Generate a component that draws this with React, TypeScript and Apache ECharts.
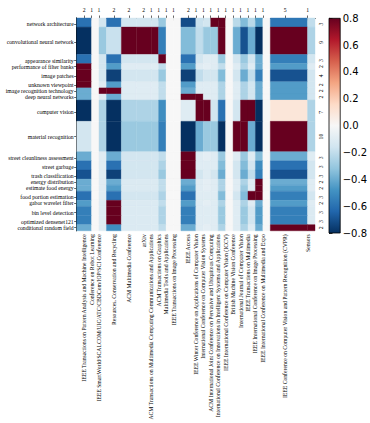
import React, { useEffect, useRef } from 'react';
import * as echarts from 'echarts';

const columns = [
  'IEEE Transactions on Pattern Analysis and Machine Intelligence',
  'Conference on Robot Learning',
  'IEEE SmartWorld/SCALCOM/UIC/ATC/CBDCom/IOP/SCI Conference',
  'Resources, Conservation and Recycling',
  'ACM Multimedia Conference',
  'arXiv',
  'ACM Transactions on Multimedia Computing Communications and Applications',
  'ACM Transactions on Graphics',
  'Multimedia Tools and Applications',
  'IEEE Transactions on Image Processing',
  'IEEE Access',
  'IEEE Winter Conference on Applications of Computer Vision',
  'International Conference on Computer Vision Systems',
  'ACM International Joint Conference on Pervasive and Ubiquitous Computing',
  'International Conference on Innovations in Intelligent Systems and Applications',
  'IEEE International Conference on Computer Vision (ICCV)',
  'British Machine Vision Conference',
  'International Journal of Computer Vision',
  'IEEE Transactions on Multimedia',
  'IEEE International Conference on Image Processing',
  'IEEE International Conference on Multimedia and Expo',
  'IEEE Conference on Computer Vision and Pattern Recognition (CVPR)',
  'Sensors',
];
const columnCounts = [2, 1, 1, 2, 2, 2, 1, 1, 1, 1, 2, 1, 1, 1, 1, 1, 1, 1, 1, 1, 1, 5, 1];

const rows = [
  'network architecture',
  'convolutional neural network',
  'appearance similarity',
  'performance of filter banks',
  'image patches',
  'unknown viewpoint',
  'image recognition technology',
  'deep neural networks',
  'computer vision',
  'material recognition',
  'street cleanliness assessment',
  'street garbage',
  'trash classification',
  'energy distribution',
  'estimate food energy',
  'food portion estimation',
  'gabor wavelet filter',
  'bin level detection',
  'optimized densenet121',
  'conditional random field',
];
const rowCounts = [3, 9, 3, 2, 4, 2, 2, 2, 7, 10, 3, 3, 3, 2, 2, 3, 2, 3, 3, 2];

const r01 = [-0.6, 0, -0.15, -0.6, -0.15, -0.15, -0.15, -0.3, 0, 0, -0.72, -0.18, -0.15, 0.8, 0.8, 0, -0.22, -0.35, -0.22, -0.45, 0, -0.58, -0.2];
const r02 = [-0.8, 0, -0.3, -0.18, 0.8, 0.8, 0.8, -0.55, 0, 0, -0.35, -0.2, -0.3, -0.3, 0.8, 0, -0.4, -0.7, -0.4, -0.8, 0, 0.8, -0.25];
const r03 = [-0.6, 0, -0.15, -0.6, -0.15, -0.15, -0.15, 0.8, 0, 0, -0.6, -0.15, -0.1, -0.1, -0.3, 0, -0.15, -0.3, -0.15, -0.4, 0, -0.55, -0.15];
const r04 = [0.8, 0, -0.15, -0.45, -0.1, -0.1, -0.1, -0.2, 0, 0, -0.45, -0.1, -0.08, -0.1, -0.2, 0, -0.1, -0.25, -0.1, -0.4, 0, -0.45, -0.1];
const r05 = [0.8, 0, -0.15, -0.75, -0.15, -0.15, -0.15, -0.3, 0, 0, -0.75, -0.2, -0.15, -0.15, -0.35, 0, -0.15, -0.4, -0.2, -0.55, 0, -0.7, -0.15];
const r06 = [0.8, 0, -0.1, -0.45, -0.1, -0.1, -0.1, -0.2, 0, 0, -0.45, -0.1, -0.1, -0.1, -0.25, 0, -0.1, -0.25, -0.15, -0.4, 0, -0.45, -0.15];
const r07 = [-0.4, 0, 0.8, 0.8, -0.1, -0.1, -0.1, -0.2, 0, 0, -0.4, -0.1, -0.1, -0.1, -0.25, 0, -0.1, -0.25, -0.15, -0.4, 0, -0.45, -0.15];
const r08 = [-0.4, 0, -0.1, -0.4, -0.1, -0.1, -0.1, -0.2, 0, 0, 0.8, 0.8, -0.1, -0.1, -0.25, 0, -0.1, -0.25, -0.15, -0.4, 0, -0.45, -0.15];
const r09 = [-0.8, 0, -0.25, -0.8, -0.25, -0.25, -0.25, -0.5, 0, 0, -0.1, 0.8, 0.8, -0.15, -0.6, 0, -0.15, 0.8, 0.8, -0.8, 0, 0.1, -0.25];
const r10 = [-0.15, 0, -0.25, -0.8, -0.3, -0.3, -0.3, -0.55, 0, 0, -0.8, -0.4, -0.3, -0.3, -0.8, 0, 0.8, 0.8, -0.4, -0.8, 0, 0.8, -0.25];
const r11 = [-0.4, 0, -0.1, -0.4, -0.15, -0.15, -0.15, -0.2, 0, 0, 0.8, -0.1, -0.08, -0.1, -0.3, 0, -0.1, -0.3, -0.1, -0.35, 0, -0.4, -0.1];
const r12 = [-0.6, 0, -0.1, -0.6, -0.15, -0.15, -0.15, -0.25, 0, 0, 0.8, -0.1, -0.1, -0.1, -0.35, 0, -0.15, -0.35, -0.15, -0.5, 0, -0.6, -0.15];
const r13 = [-0.7, 0, -0.1, -0.75, -0.15, -0.15, -0.15, -0.3, 0, 0, 0.8, -0.15, -0.1, -0.15, -0.4, 0, -0.15, -0.4, -0.2, -0.55, 0, -0.7, -0.15];
const r14 = [-0.4, 0, -0.1, -0.4, -0.12, -0.12, -0.12, -0.2, 0, 0, -0.4, -0.1, -0.08, -0.1, -0.25, 0, -0.1, -0.25, -0.1, 0.8, 0, -0.4, -0.1];
const r15 = [-0.4, 0, -0.1, -0.45, -0.12, -0.12, -0.12, -0.2, 0, 0, -0.45, -0.1, -0.08, -0.1, -0.25, 0, -0.1, -0.3, -0.1, 0.8, 0, -0.45, -0.1];
const r16 = [-0.6, 0, -0.1, -0.6, -0.15, -0.15, -0.15, -0.25, 0, 0, -0.6, -0.1, -0.1, -0.1, -0.35, 0, -0.15, -0.35, 0.8, 0.8, 0, -0.55, -0.15];
const r17 = [-0.45, 0, -0.1, 0.8, -0.12, -0.12, -0.12, -0.2, 0, 0, -0.45, -0.1, -0.08, -0.1, -0.25, 0, -0.1, -0.25, -0.1, -0.4, 0, -0.45, -0.1];
const r18 = [-0.55, 0, -0.1, 0.8, -0.12, -0.12, -0.12, -0.25, 0, 0, -0.55, -0.1, -0.1, -0.1, -0.3, 0, -0.1, -0.3, -0.15, -0.45, 0, -0.55, -0.12];
const r19 = [-0.55, 0, -0.1, 0.8, -0.12, -0.12, -0.12, -0.25, 0, 0, -0.55, -0.1, -0.1, -0.1, -0.3, 0, -0.1, -0.3, -0.15, -0.45, 0, -0.55, -0.12];
const r20 = [-0.4, 0, -0.1, -0.5, -0.12, -0.12, -0.12, -0.2, 0, 0, -0.4, -0.1, -0.08, -0.1, -0.25, 0, -0.1, -0.25, -0.1, -0.4, 0, 0.8, 0.8];
const values = [r01, r02, r03, r04, r05, r06, r07, r08, r09, r10, r11, r12, r13, r14, r15, r16, r17, r18, r19, r20];

const colorbarMin = -0.8;
const colorbarMax = 0.8;
const rdBuR = ['#053061', '#2166ac', '#4393c3', '#92c5de', '#d1e5f0', '#f7f7f7', '#fddbc7', '#f4a582', '#d6604d', '#b2182b', '#67001f'];

const SERIF = 'Liberation Serif';

export default function App() {
  const ref = useRef<HTMLDivElement>(null);
  useEffect(() => {
    if (!ref.current) return;
    const chart = echarts.init(ref.current, null, { renderer: 'svg' });

    const colEdges: number[] = [];
    let acc = 0;
    columnCounts.forEach((c) => { colEdges.push(acc); acc += c; });
    const colTotal = acc;
    const colTicks = columnCounts.map((c, i) => colEdges[i] + Math.floor(c / 2));

    const rowEdges: number[] = [];
    acc = 0;
    rowCounts.forEach((c) => { rowEdges.push(acc); acc += c; });
    const rowTotal = acc;
    const rowTicks = rowCounts.map((c, i) => rowEdges[i] + c - Math.floor(c / 2));

    const colName = new Map<number, string>();
    const colCnt = new Map<number, string>();
    colTicks.forEach((t, i) => { colName.set(t, columns[i]); colCnt.set(t, String(columnCounts[i])); });
    const rowName = new Map<number, string>();
    const rowCnt = new Map<number, string>();
    rowTicks.forEach((t, i) => { rowName.set(t, rows[i]); rowCnt.set(t, String(rowCounts[i])); });

    const cells: number[][] = [];
    values.forEach((rv, ri) => {
      rv.forEach((v, ci) => {
        cells.push([colEdges[ci], colEdges[ci] + columnCounts[ci], rowEdges[ri], rowEdges[ri] + rowCounts[ri], v]);
      });
    });

    const axisLine = { show: true, lineStyle: { color: '#000', width: 0.8 } };
    const tick = (vals: number[]) => ({ show: true, customValues: vals, length: 2.5, lineStyle: { color: '#000', width: 0.6 } });
    const smallLabel = { fontFamily: SERIF, fontSize: 5.7, color: '#000' };

    const option: any = {
      animation: false,
      backgroundColor: '#fff',
      grid: [
        { left: 76.7, top: 18, width: 238.3, height: 215 },
        { left: 329, top: 18.3, width: 12.7, height: 214.7 },
      ],
      visualMap: {
        show: false,
        type: 'continuous',
        min: colorbarMin,
        max: colorbarMax,
        dimension: 4,
        seriesIndex: 0,
        inRange: { color: rdBuR },
      },
      xAxis: [
        {
          gridIndex: 0, type: 'value', min: 0, max: colTotal, position: 'bottom',
          axisLine, axisTick: tick(colTicks), splitLine: { show: false },
          axisLabel: { ...smallLabel, customValues: colTicks, rotate: 90, margin: 3.5, formatter: (v: number) => colName.get(Math.round(v)) ?? '' },
        },
        {
          gridIndex: 0, type: 'value', min: 0, max: colTotal, position: 'top',
          axisLine, axisTick: tick(colTicks), splitLine: { show: false },
          axisLabel: { ...smallLabel, customValues: colTicks, margin: 5, formatter: (v: number) => colCnt.get(Math.round(v)) ?? '' },
        },
        { gridIndex: 1, type: 'value', min: 0, max: 1, show: false },
      ],
      yAxis: [
        {
          gridIndex: 0, type: 'value', min: 0, max: rowTotal, inverse: true, position: 'left',
          axisLine, axisTick: tick(rowTicks), splitLine: { show: false },
          axisLabel: { ...smallLabel, customValues: rowTicks, margin: 3, formatter: (v: number) => rowName.get(Math.round(v)) ?? '' },
        },
        {
          gridIndex: 0, type: 'value', min: 0, max: rowTotal, inverse: true, position: 'right',
          axisLine, axisTick: tick(rowTicks), splitLine: { show: false },
          axisLabel: { ...smallLabel, customValues: rowTicks, rotate: 90, margin: 3, formatter: (v: number) => rowCnt.get(Math.round(v)) ?? '' },
        },
        {
          gridIndex: 1, type: 'value', min: colorbarMin, max: colorbarMax, interval: 0.2, position: 'right',
          axisLine, splitLine: { show: false },
          axisTick: { show: true, length: 3.5, lineStyle: { color: '#000', width: 0.8 } },
          axisLabel: {
            fontFamily: 'DejaVu Sans', fontSize: 10, color: '#000', margin: 2.5,
            formatter: (v: number) => (v < -1e-9 ? '\u2212' : '') + Math.abs(v).toFixed(1),
          },
        },
      ],
      series: [
        {
          type: 'custom',
          xAxisIndex: 0,
          yAxisIndex: 0,
          encode: { x: [0, 1], y: [2, 3] },
          data: cells,
          renderItem: (params: any, api: any) => {
            const p0 = api.coord([api.value(0), api.value(2)]);
            const p1 = api.coord([api.value(1), api.value(3)]);
            const color = api.visual('color');
            return {
              type: 'rect',
              shape: {
                x: Math.min(p0[0], p1[0]),
                y: Math.min(p0[1], p1[1]),
                width: Math.abs(p1[0] - p0[0]),
                height: Math.abs(p1[1] - p0[1]),
              },
              style: { fill: color, stroke: color, lineWidth: 0.4 },
            };
          },
        },
        {
          type: 'custom',
          xAxisIndex: 2,
          yAxisIndex: 2,
          data: [[0, colorbarMin, 1, colorbarMax]],
          renderItem: (params: any, api: any) => {
            const p0 = api.coord([api.value(0), api.value(3)]);
            const p1 = api.coord([api.value(2), api.value(1)]);
            const stops = rdBuR.slice().reverse().map((c, i) => ({ offset: i / (rdBuR.length - 1), color: c }));
            return {
              type: 'rect',
              shape: { x: p0[0], y: p0[1], width: p1[0] - p0[0], height: p1[1] - p0[1] },
              style: {
                fill: new echarts.graphic.LinearGradient(0, 0, 0, 1, stops),
                stroke: '#000',
                lineWidth: 0.8,
              },
            };
          },
        },
      ],
    };
    chart.setOption(option);
    return () => chart.dispose();
  }, []);
  return <div ref={ref} style={{ position: 'fixed', left: 0, top: 0, width: 370, height: 423 }} />;
}
